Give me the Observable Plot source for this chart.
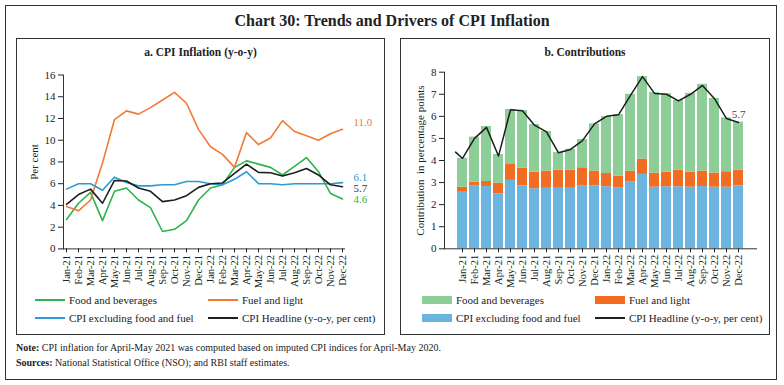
<!DOCTYPE html>
<html><head><meta charset="utf-8">
<script src="https://cdn.jsdelivr.net/npm/d3@7"></script>
<script src="https://cdn.jsdelivr.net/npm/@observablehq/plot@0.6"></script>
<style>
body{margin:0;background:#fff;font-family:"Liberation Serif",serif;color:#222;}
#wrap{position:relative;width:784px;height:385px;overflow:hidden;}
.abs{position:absolute;}
.frame{position:absolute;border:1.3px solid #333;box-sizing:border-box;}
.title{position:absolute;width:100%;text-align:center;font-weight:bold;}
.leg{position:absolute;font-size:11px;display:flex;align-items:center;white-space:nowrap;color:#222;}
.leg svg{margin-right:4px;}
.note{position:absolute;left:16px;font-size:10px;color:#222;white-space:nowrap;}
</style></head>
<body><div id="wrap">
<div class="frame" style="left:5px;top:5px;width:772px;height:375px;"></div>
<div class="title" style="left:0;top:12px;font-size:16px;">Chart 30: Trends and Drivers of CPI Inflation</div>
<div class="frame" style="left:16px;top:38px;width:369px;height:297px;"></div>
<div class="frame" style="left:400px;top:38px;width:370px;height:297px;"></div>
<div class="title" style="left:16px;width:369px;top:46px;font-size:11.5px;">a. CPI Inflation (y-o-y)</div>
<div class="title" style="left:400px;width:370px;top:46px;font-size:11.5px;">b. Contributions</div>
<div id="chartA" class="abs" style="left:16px;top:60px;"></div>
<div id="chartB" class="abs" style="left:400px;top:60px;"></div>
<div id="legA"></div>
<div id="legB"></div>
<div class="note" style="top:342px;"><b>Note:</b> CPI inflation for April-May 2021 was computed based on imputed CPI indices for April-May 2020.</div>
<div class="note" style="top:357px;"><b>Sources:</b> National Statistical Office (NSO); and RBI staff estimates.</div>
</div>
<script>
const months = ["Jan-21","Feb-21","Mar-21","Apr-21","May-21","Jun-21","Jul-21","Aug-21","Sep-21","Oct-21","Nov-21","Dec-21",
                "Jan-22","Feb-22","Mar-22","Apr-22","May-22","Jun-22","Jul-22","Aug-22","Sep-22","Oct-22","Nov-22","Dec-22"];
// Panel a: y-o-y inflation (per cent)
const foodBev  = [2.7,4.2,5.2,2.6,5.3,5.6,4.5,3.8,1.6,1.8,2.6,4.5,5.6,5.9,7.5,8.1,7.8,7.5,6.8,7.6,8.4,7.1,5.1,4.6];
const fuelLight = [3.9,3.5,4.5,7.9,11.9,12.7,12.4,13.0,13.7,14.4,13.4,11.0,9.4,8.7,7.5,10.7,9.6,10.2,11.8,10.8,10.4,10.0,10.6,11.0];
const coreCPI  = [5.5,6.0,6.0,5.4,6.6,6.1,5.8,5.8,5.9,5.9,6.2,6.2,6.0,5.9,6.4,7.1,6.0,6.0,5.9,6.0,6.0,6.0,6.0,6.1];
const headline = [4.1,5.0,5.5,4.2,6.3,6.25,5.6,5.3,4.35,4.5,4.9,5.66,6.0,6.07,6.95,7.8,7.04,7.0,6.7,7.0,7.4,6.8,5.9,5.72];
const headlinePrev = 4.59; // Dec-20, line enters panel b from the left edge
// Panel b: contributions (percentage points)
const coreContrib = [2.56,2.84,2.82,2.49,3.10,2.85,2.72,2.74,2.74,2.74,2.84,2.85,2.81,2.77,3.02,3.37,2.79,2.81,2.81,2.79,2.82,2.79,2.79,2.85];
const fuelContrib = [0.23,0.18,0.23,0.48,0.75,0.80,0.75,0.78,0.82,0.82,0.83,0.67,0.60,0.52,0.50,0.69,0.64,0.66,0.75,0.68,0.70,0.64,0.70,0.71];
const foodContrib = [1.31,2.04,2.49,1.30,2.46,2.61,2.16,1.80,0.80,0.95,1.28,2.14,2.58,2.79,3.48,3.74,3.65,3.55,3.16,3.57,3.93,3.38,2.44,2.18];
const yTicksA = [0,2,4,6,8,10,12,14,16];
const yTicksB = [0,1,2,3,4,5,6,7,8];
const seriesA = ["Food and beverages","Fuel and light","CPI excluding food and fuel","CPI Headline (y-o-y, per cent)"];
const colorsA = ["#2fb24f","#f07a36","#2b9ad6","#1e1e1e"];
const seriesB = ["Food and beverages","Fuel and light","CPI excluding food and fuel","CPI Headline (y-o-y, per cent)"];
const colorsB = ["#8ccd98","#f26c22","#6cb4e0","#1e1e1e"];

const FONT = "Liberation Serif, serif";

// ---- Panel a ----
const linesA = [];
[foodBev, fuelLight, coreCPI, headline].forEach((arr, si) => {
  arr.forEach((v, i) => linesA.push({month: months[i], value: v, series: seriesA[si]}));
});
const last = months.length - 1;
const endLabels = [
  {arr: fuelLight, dy: -7, color: "#f07a36"},
  {arr: coreCPI, dy: -5, color: "#2b9ad6"},
  {arr: headline, dy: 2, color: "#333"},
  {arr: foodBev, dy: 1, color: "#2fb24f"}
];
const chartA = Plot.plot({
  width: 369, height: 230,
  marginLeft: 47, marginRight: 41, marginTop: 14.5, marginBottom: 41.6,
  style: {fontFamily: FONT, fontSize: "10.5px", color: "#222", background: "transparent"},
  x: {type: "point", domain: months, padding: 0},
  y: {domain: [0, 16]},
  color: {domain: seriesA, range: colorsA},
  marks: [
    Plot.frame({anchor: "left", stroke: "#333"}),
    Plot.frame({anchor: "bottom", stroke: "#333"}),
    Plot.axisY({ticks: yTicksA, tickSize: 5, tickPadding: 3, label: "Per cent", labelAnchor: "center", labelArrow: "none", labelOffset: 33, fontSize: 11}),
    Plot.axisX({tickRotate: -90, tickSize: 4, tickPadding: 2, label: null, fontSize: 10.5}),
    Plot.line(linesA, {x: "month", y: "value", z: "series", stroke: "series", strokeWidth: 1.6}),
    ...endLabels.map(l => Plot.text([{month: months[last], value: l.arr[last]}], {
      x: "month", y: "value", text: d => d.value.toFixed(1), fill: l.color,
      dx: 11, dy: l.dy, textAnchor: "start", fontSize: 11
    }))
  ]
});
document.getElementById("chartA").append(chartA);

// ---- Panel b ----
const stackRows = [];
months.forEach((m, i) => {
  stackRows.push({month: m, value: coreContrib[i], series: seriesB[2]});
  stackRows.push({month: m, value: fuelContrib[i], series: seriesB[1]});
  stackRows.push({month: m, value: foodContrib[i], series: seriesB[0]});
});
const headRows = months.map((m, i) => ({month: m, value: headline[i]}));
const PAD_INNER = 0.2, PAD_OUTER = 0.12;
// lead-in segment of the headline line from the previous month (clipped at the y-axis)
function leadIn(index, scales) {
  const xa = scales.x(months[0]), xb = scales.x(months[1]);
  const step = xb - xa;
  const cx = xa + step * (1 - PAD_INNER) / 2;
  const px = cx - step;
  const y1 = scales.y(headline[0]), y0 = scales.y(headlinePrev);
  const ex = xa - step * PAD_OUTER;
  const t = (ex - px) / (cx - px);
  const ey = y0 + (y1 - y0) * t;
  const ns = "http://www.w3.org/2000/svg";
  const line = document.createElementNS(ns, "line");
  line.setAttribute("x1", ex); line.setAttribute("y1", ey);
  line.setAttribute("x2", cx); line.setAttribute("y2", y1);
  line.setAttribute("stroke", "#1e1e1e"); line.setAttribute("stroke-width", 1.5);
  line.setAttribute("stroke-linecap", "round");
  return line;
}
const chartB = Plot.plot({
  width: 370, height: 230,
  marginLeft: 44, marginRight: 14, marginTop: 11.7, marginBottom: 41.7,
  style: {fontFamily: FONT, fontSize: "10.5px", color: "#222", background: "transparent"},
  x: {type: "band", domain: months, paddingInner: PAD_INNER, paddingOuter: PAD_OUTER},
  y: {domain: [0, 8]},
  color: {domain: seriesB, range: colorsB},
  marks: [
    Plot.barY(stackRows, {x: "month", y: "value", fill: "series", order: null}),
    Plot.frame({anchor: "left", stroke: "#333"}),
    Plot.frame({anchor: "bottom", stroke: "#333"}),
    Plot.axisY({ticks: yTicksB, tickSize: 5, tickPadding: 3, label: "Contribution  in percentage points", labelAnchor: "center", labelArrow: "none", labelOffset: 28, fontSize: 11}),
    Plot.axisX({tickRotate: -90, tickSize: 4, tickPadding: 2, label: null, fontSize: 10.5}),
    Plot.line(headRows, {x: "month", y: "value", stroke: "#1e1e1e", strokeWidth: 1.5}),
    leadIn,
    Plot.text([headRows[last]], {x: "month", y: "value", text: d => d.value.toFixed(1), fill: "#444", dy: -8, fontSize: 11})
  ]
});
document.getElementById("chartB").append(chartB);

// ---- Legends ----
function legend(containerId, items, colors, xs, ys, swatchType) {
  const c = document.getElementById(containerId);
  items.forEach((name, i) => {
    const d = document.createElement("div");
    d.className = "leg";
    d.style.left = xs[i % 2] + "px";
    d.style.top = (ys[Math.floor(i / 2)] - 7) + "px";
    const type = swatchType(i);
    const sw = type === "line"
      ? `<svg width="30" height="14"><line x1="0" y1="7" x2="30" y2="7" stroke="${colors[i]}" stroke-width="2"/></svg>`
      : `<svg width="30" height="14"><rect x="0" y="3" width="30" height="8" fill="${colors[i]}"/></svg>`;
    d.innerHTML = sw + `<span>${name}</span>`;
    c.appendChild(d);
  });
}
legend("legA", seriesA, colorsA, [35, 208], [300, 318], () => "line");
legend("legB", seriesB, colorsB, [422, 595], [300, 318], i => i === 3 ? "line" : "rect");
</script>
</body></html>
